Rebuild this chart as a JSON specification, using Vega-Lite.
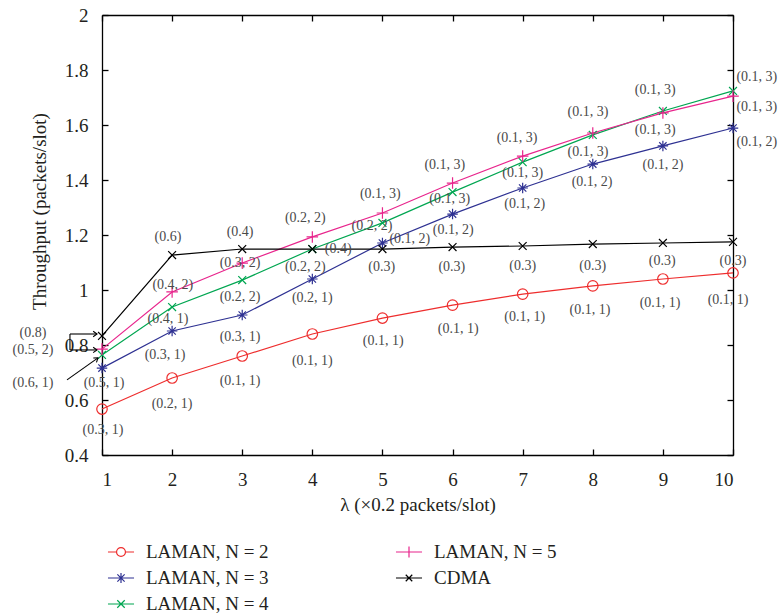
{
  "$schema": "https://vega.github.io/schema/vega-lite/v6.json",
  "width": 631,
  "height": 440,
  "autosize": "none",
  "padding": {"left": 102, "top": 15, "right": 48, "bottom": 160},
  "config": {
    "font": "Liberation Serif",
    "view": {"stroke": null},
    "axis": {
      "grid": false, "domainColor": "#000000", "tickColor": "#000000",
      "labelColor": "#231f20", "titleColor": "#231f20",
      "labelFont": "Liberation Serif", "titleFont": "Liberation Serif",
      "labelFontSize": 19, "titleFontSize": 19, "titleFontWeight": "normal",
      "tickSize": -6, "domainWidth": 1.3, "tickWidth": 1.3
    }
  },
  "datasets": {
    "series": [
      {"s": "LAMAN, N = 2", "x": 1, "y": 0.567}, {"s": "LAMAN, N = 2", "x": 2, "y": 0.68}, {"s": "LAMAN, N = 2", "x": 3, "y": 0.76}, {"s": "LAMAN, N = 2", "x": 4, "y": 0.84}, {"s": "LAMAN, N = 2", "x": 5, "y": 0.898}, {"s": "LAMAN, N = 2", "x": 6, "y": 0.945}, {"s": "LAMAN, N = 2", "x": 7, "y": 0.985}, {"s": "LAMAN, N = 2", "x": 8, "y": 1.015}, {"s": "LAMAN, N = 2", "x": 9, "y": 1.04}, {"s": "LAMAN, N = 2", "x": 10, "y": 1.062},
      {"s": "LAMAN, N = 3", "x": 1, "y": 0.716}, {"s": "LAMAN, N = 3", "x": 2, "y": 0.851}, {"s": "LAMAN, N = 3", "x": 3, "y": 0.909}, {"s": "LAMAN, N = 3", "x": 4, "y": 1.04}, {"s": "LAMAN, N = 3", "x": 5, "y": 1.171}, {"s": "LAMAN, N = 3", "x": 6, "y": 1.276}, {"s": "LAMAN, N = 3", "x": 7, "y": 1.371}, {"s": "LAMAN, N = 3", "x": 8, "y": 1.458}, {"s": "LAMAN, N = 3", "x": 9, "y": 1.524}, {"s": "LAMAN, N = 3", "x": 10, "y": 1.589},
      {"s": "LAMAN, N = 4", "x": 1, "y": 0.764}, {"s": "LAMAN, N = 4", "x": 2, "y": 0.938}, {"s": "LAMAN, N = 4", "x": 3, "y": 1.036}, {"s": "LAMAN, N = 4", "x": 4, "y": 1.149}, {"s": "LAMAN, N = 4", "x": 5, "y": 1.244}, {"s": "LAMAN, N = 4", "x": 6, "y": 1.356}, {"s": "LAMAN, N = 4", "x": 7, "y": 1.465}, {"s": "LAMAN, N = 4", "x": 8, "y": 1.564}, {"s": "LAMAN, N = 4", "x": 9, "y": 1.651}, {"s": "LAMAN, N = 4", "x": 10, "y": 1.724},
      {"s": "LAMAN, N = 5", "x": 1, "y": 0.785}, {"s": "LAMAN, N = 5", "x": 2, "y": 0.993}, {"s": "LAMAN, N = 5", "x": 3, "y": 1.098}, {"s": "LAMAN, N = 5", "x": 4, "y": 1.193}, {"s": "LAMAN, N = 5", "x": 5, "y": 1.28}, {"s": "LAMAN, N = 5", "x": 6, "y": 1.389}, {"s": "LAMAN, N = 5", "x": 7, "y": 1.487}, {"s": "LAMAN, N = 5", "x": 8, "y": 1.571}, {"s": "LAMAN, N = 5", "x": 9, "y": 1.644}, {"s": "LAMAN, N = 5", "x": 10, "y": 1.705},
      {"s": "CDMA", "x": 1, "y": 0.833}, {"s": "CDMA", "x": 2, "y": 1.127}, {"s": "CDMA", "x": 3, "y": 1.149}, {"s": "CDMA", "x": 4, "y": 1.149}, {"s": "CDMA", "x": 5, "y": 1.149}, {"s": "CDMA", "x": 6, "y": 1.156}, {"s": "CDMA", "x": 7, "y": 1.16}, {"s": "CDMA", "x": 8, "y": 1.167}, {"s": "CDMA", "x": 9, "y": 1.171}, {"s": "CDMA", "x": 10, "y": 1.175}
    ],
    "labels": [
      {"t": "(0.3, 1)", "x": 1.014, "y": 0.491}, {"t": "(0.2, 1)", "x": 2.0, "y": 0.585}, {"t": "(0.1, 1)", "x": 2.97, "y": 0.669}, {"t": "(0.1, 1)", "x": 4.0, "y": 0.742}, {"t": "(0.1, 1)", "x": 5.01, "y": 0.815}, {"t": "(0.1, 1)", "x": 6.08, "y": 0.858}, {"t": "(0.1, 1)", "x": 7.03, "y": 0.902}, {"t": "(0.1, 1)", "x": 7.96, "y": 0.927}, {"t": "(0.1, 1)", "x": 8.96, "y": 0.953}, {"t": "(0.1, 1)", "x": 9.93, "y": 0.964},
      {"t": "(0.5, 1)", "x": 1.03, "y": 0.662}, {"t": "(0.3, 1)", "x": 1.9, "y": 0.764}, {"t": "(0.3, 1)", "x": 2.97, "y": 0.829}, {"t": "(0.2, 1)", "x": 4.0, "y": 0.971}, {"t": "(0.1, 2)", "x": 5.39, "y": 1.185}, {"t": "(0.1, 2)", "x": 6.01, "y": 1.218}, {"t": "(0.1, 2)", "x": 7.03, "y": 1.313}, {"t": "(0.1, 2)", "x": 7.99, "y": 1.393}, {"t": "(0.1, 2)", "x": 9.0, "y": 1.455}, {"t": "(0.1, 2)", "x": 10.34, "y": 1.538},
      {"t": "(0.6, 1)", "x": 0.016, "y": 0.662}, {"t": "(0.4, 1)", "x": 1.94, "y": 0.895}, {"t": "(0.2, 2)", "x": 2.97, "y": 0.975}, {"t": "(0.2, 2)", "x": 3.9, "y": 1.084}, {"t": "(0.2, 2)", "x": 4.85, "y": 1.233}, {"t": "(0.1, 3)", "x": 5.96, "y": 1.331}, {"t": "(0.1, 3)", "x": 7.0, "y": 1.425}, {"t": "(0.1, 3)", "x": 7.93, "y": 1.502}, {"t": "(0.1, 3)", "x": 8.89, "y": 1.582}, {"t": "(0.1, 3)", "x": 10.34, "y": 1.775},
      {"t": "(0.5, 2)", "x": 0.016, "y": 0.782}, {"t": "(0.4, 2)", "x": 2.01, "y": 1.018}, {"t": "(0.3, 2)", "x": 2.97, "y": 1.098}, {"t": "(0.2, 2)", "x": 3.9, "y": 1.262}, {"t": "(0.1, 3)", "x": 4.97, "y": 1.349}, {"t": "(0.1, 3)", "x": 5.89, "y": 1.455}, {"t": "(0.1, 3)", "x": 6.92, "y": 1.553}, {"t": "(0.1, 3)", "x": 7.93, "y": 1.647}, {"t": "(0.1, 3)", "x": 8.89, "y": 1.727}, {"t": "(0.1, 3)", "x": 10.34, "y": 1.665},
      {"t": "(0.8)", "x": 0.016, "y": 0.844}, {"t": "(0.6)", "x": 1.94, "y": 1.193}, {"t": "(0.4)", "x": 2.97, "y": 1.211}, {"t": "(0.4)", "x": 4.37, "y": 1.149}, {"t": "(0.3)", "x": 4.99, "y": 1.084}, {"t": "(0.3)", "x": 5.99, "y": 1.084}, {"t": "(0.3)", "x": 7.0, "y": 1.087}, {"t": "(0.3)", "x": 8.0, "y": 1.087}, {"t": "(0.3)", "x": 8.99, "y": 1.105}, {"t": "(0.3)", "x": 10.0, "y": 1.105}
    ],
    "arrows": [
      {"x": 0.543, "y": 0.84, "x2": 0.929, "y2": 0.84},
      {"x": 0.543, "y": 0.782, "x2": 0.929, "y2": 0.782},
      {"x": 0.543, "y": 0.84, "x2": 0.543, "y2": 0.782},
      {"x": 0.501, "y": 0.673, "x2": 0.943, "y2": 0.753}
    ],
    "heads": [
      {"x": 0.929, "y": 0.84, "k": "h"},
      {"x": 0.929, "y": 0.782, "k": "h"},
      {"x": 0.943, "y": 0.753, "k": "d"}
    ]
  },
  "resolve": {"axis": {"x": "independent", "y": "independent"}},
  "layer": [
    {
      "data": {"name": "series"},
      "mark": {"type": "line", "strokeWidth": 1.2},
      "encoding": {
        "x": {"field": "x", "type": "quantitative", "scale": {"domain": [1, 10], "nice": false, "zero": false},
              "axis": {"orient": "bottom", "title": "λ (×0.2 packets/slot)", "values": [1,2,3,4,5,6,7,8,9,10], "labelPadding": 21, "titlePadding": 6}},
        "y": {"field": "y", "type": "quantitative", "scale": {"domain": [0.4, 2], "nice": false, "zero": false},
              "axis": {"orient": "left", "title": "Throughput (packets/slot)", "values": [0.4,0.6,0.8,1,1.2,1.4,1.6,1.8,2], "format": "~g", "labelPadding": 20, "titlePadding": 15, "titleY": 196}},
        "color": {"field": "s", "type": "nominal",
          "scale": {"domain": ["LAMAN, N = 2", "LAMAN, N = 3", "LAMAN, N = 4", "LAMAN, N = 5", "CDMA"],
                    "range": ["#ee2d2d", "#2e3192", "#00a651", "#e8248c", "#000000"]},
          "legend": {
            "orient": "none", "legendX": 9, "legendY": 527, "columns": 2, "title": null,
            "padding": 0, "symbolSize": 346, "symbolStrokeWidth": 1.2, "labelOffset": 15,
            "labelFont": "Liberation Serif", "labelFontSize": 19, "labelColor": "#231f20",
            "rowPadding": 6, "columnPadding": 124, "labelLimit": 300,
            "encode": {"symbols": {"update": {
              "shape": {"signal": "datum.value === 'LAMAN, N = 2' ? 'M-1.4,0L-0.48,0M0.48,0L1.4,0M-0.48,0A0.48,0.48,0,1,1,0.48,0A0.48,0.48,0,1,1,-0.48,0' : datum.value === 'LAMAN, N = 3' ? 'M-1.4,0L1.4,0M0,-0.55L0,0.55M-0.39,-0.39L0.39,0.39M-0.39,0.39L0.39,-0.39' : datum.value === 'LAMAN, N = 4' ? 'M-1.4,0L1.4,0M-0.4,-0.4L0.4,0.4M-0.4,0.4L0.4,-0.4' : datum.value === 'LAMAN, N = 5' ? 'M-1.4,0L1.4,0M0,-0.6L0,0.6' : 'M-1.4,0L1.4,0M-0.35,-0.35L0.35,0.35M-0.35,0.35L0.35,-0.35'"},
              "fill": {"value": "transparent"},
              "opacity": {"value": 1}
            }}}
          }
        }
      }
    },
    {
      "data": {"name": "series"},
      "mark": {"type": "point", "filled": false, "size": 110, "strokeWidth": 1.2, "opacity": 1},
      "encoding": {
        "x": {"field": "x", "type": "quantitative", "axis": null},
        "y": {"field": "y", "type": "quantitative", "axis": null},
        "color": {"field": "s", "type": "nominal", "legend": null},
        "shape": {"field": "s", "type": "nominal", "legend": null,
          "scale": {"domain": ["CDMA", "LAMAN, N = 2", "LAMAN, N = 3", "LAMAN, N = 4", "LAMAN, N = 5"],
                    "range": ["M-0.75,-0.75L0.75,0.75M-0.75,0.75L0.75,-0.75", "M-1,0A1,1,0,1,1,1,0A1,1,0,1,1,-1,0", "M0,-1L0,1M-1,0L1,0M-0.7,-0.7L0.7,0.7M-0.7,0.7L0.7,-0.7", "M-0.75,-0.75L0.75,0.75M-0.75,0.75L0.75,-0.75", "M0,-1.1L0,1.1M-1.1,0L1.1,0"]}}
      }
    },
    {
      "data": {"name": "labels"},
      "mark": {"type": "text", "font": "Liberation Serif", "fontSize": 14, "color": "#4a4a4a", "align": "center", "baseline": "middle"},
      "encoding": {
        "x": {"field": "x", "type": "quantitative", "axis": {"orient": "top", "labels": false, "title": null, "values": [1,2,3,4,5,6,7,8,9,10]}},
        "y": {"field": "y", "type": "quantitative", "axis": {"orient": "right", "labels": false, "title": null, "values": [0.4,0.6,0.8,1,1.2,1.4,1.6,1.8,2]}},
        "text": {"field": "t", "type": "nominal"}
      }
    },
    {
      "data": {"name": "arrows"},
      "mark": {"type": "rule", "color": "#000000", "strokeWidth": 1.1},
      "encoding": {
        "x": {"field": "x", "type": "quantitative", "axis": null},
        "y": {"field": "y", "type": "quantitative", "axis": null},
        "x2": {"field": "x2"},
        "y2": {"field": "y2"}
      }
    },
    {
      "data": {"name": "heads"},
      "transform": [{"filter": "datum.k === 'h'"}],
      "mark": {"type": "point", "filled": false, "shape": "M-1,-0.7L0,0L-1,0.7", "size": 60, "color": "#000000", "strokeWidth": 1.1, "opacity": 1},
      "encoding": {
        "x": {"field": "x", "type": "quantitative", "axis": null},
        "y": {"field": "y", "type": "quantitative", "axis": null}
      }
    },
    {
      "data": {"name": "heads"},
      "transform": [{"filter": "datum.k === 'd'"}],
      "mark": {"type": "point", "filled": false, "shape": "M-1,-0.7L0,0L-1,0.7", "size": 60, "angle": -36, "color": "#000000", "strokeWidth": 1.1, "opacity": 1},
      "encoding": {
        "x": {"field": "x", "type": "quantitative", "axis": null},
        "y": {"field": "y", "type": "quantitative", "axis": null}
      }
    }
  ]
}
